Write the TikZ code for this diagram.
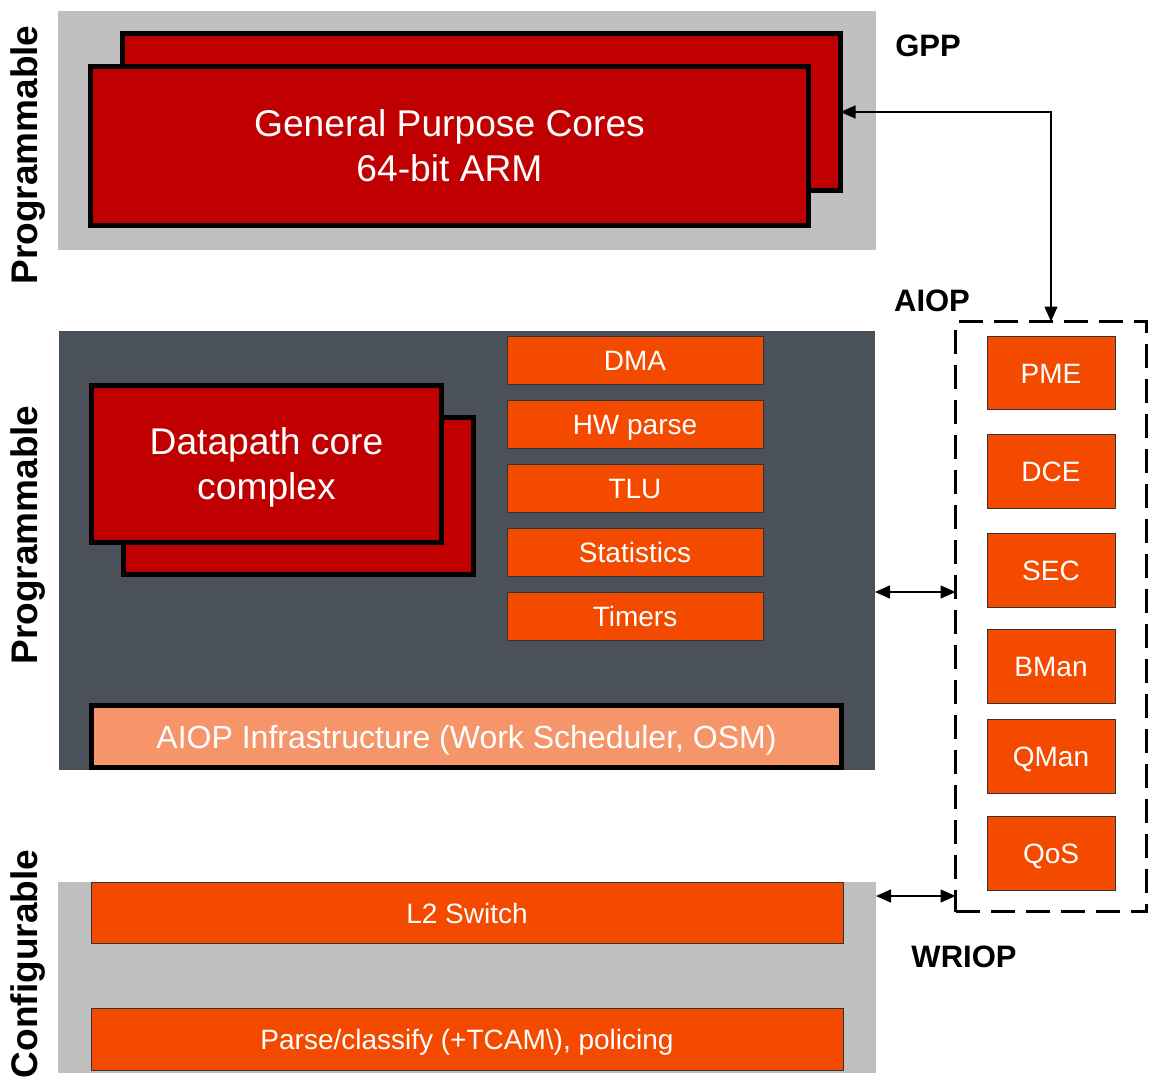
\documentclass[tikz,border=0pt]{standalone}
\usepackage{fontspec}
\setmainfont{Liberation Sans}
\usetikzlibrary{arrows.meta}
\definecolor{panelgray}{HTML}{BFBFBF}
\definecolor{paneldark}{HTML}{4B5159}
\definecolor{corered}{HTML}{C00000}
\definecolor{blockorange}{HTML}{F44A00}
\definecolor{infrasalmon}{HTML}{F7956A}
\newcommand{\fsz}[2]{\fontsize{#1}{#2}\selectfont}
\tikzset{
  panel/.style={inner sep=0pt, outer sep=0pt, anchor=north west},
  corebox/.style={fill=corered, draw=black, line width=5pt, inner sep=0pt,
    outer sep=0pt, text=white, align=center, font=\fsz{37.2}{45}},
  block/.style={fill=blockorange, draw=black!80, line width=1pt, inner sep=0pt,
    outer sep=0pt, text=white, font=\fsz{28}{32}, text height=20pt, text depth=0pt},
  sidelabel/.style={rotate=90, font=\bfseries\fsz{37}{40}},
  tag/.style={font=\bfseries\fsz{31}{34}, inner sep=0pt},
  dbl/.style={line width=1.4pt, {Triangle[length=15pt,width=13pt]}-{Triangle[length=15pt,width=13pt]}},
}
\begin{document}
\begin{tikzpicture}[x=1pt, y=-1pt]
\useasboundingbox (0,0) rectangle (1153,1086);

% background panels
\node[panel, fill=panelgray, minimum width=818pt, minimum height=239pt] (gpp) at (58,11) {};
\node[panel, fill=paneldark, minimum width=816pt, minimum height=439pt] (dark) at (59,331) {};
\node[panel, fill=panelgray, minimum width=818pt, minimum height=191pt] (cfg) at (58,882) {};

% side labels
\node[sidelabel] (lab1) at (28,155) {Programmable};
\node[sidelabel] (lab2) at (28,535) {Programmable};
\node[sidelabel] (lab3) at (28,964) {Configurable};

% general purpose cores (stacked)
\node[corebox, minimum width=718pt, minimum height=157pt] (gppback) at (481.5,112) {};
\node[corebox, minimum width=718pt, minimum height=159pt] (gppfront) at (449.5,146)
  {General Purpose Cores\\64-bit ARM};

% datapath core complex (stacked)
\node[corebox, minimum width=350pt, minimum height=157pt] (dpback) at (298.5,496) {};
\node[corebox, minimum width=350pt, minimum height=157pt] (dpfront) at (266.5,464)
  {\rule{0pt}{34pt}Datapath core\\complex};

% accelerator blocks inside the AIOP
\node[block, minimum width=256pt, minimum height=48pt] (dma)   at (635,360) {DMA};
\node[block, minimum width=256pt, minimum height=48pt] (hwp)   at (635,424) {HW parse};
\node[block, minimum width=256pt, minimum height=48pt] (tlu)   at (635,488) {TLU};
\node[block, minimum width=256pt, minimum height=48pt] (stats) at (635,552) {Statistics};
\node[block, minimum width=256pt, minimum height=48pt] (tim)   at (635,616) {Timers};

% AIOP infrastructure bar
\node[fill=infrasalmon, draw=black, line width=5pt, inner sep=0pt, outer sep=0pt,
  text=white, font=\fsz{32}{36}, text height=23pt, text depth=0pt,
  minimum width=750pt, minimum height=62pt] (infra) at (466.5,736.5)
  {AIOP Infrastructure (Work Scheduler, OSM)};

% WRIOP blocks
\node[block, minimum width=752pt, minimum height=61pt] (l2)  at (467,913) {L2 Switch};
\node[block, minimum width=752pt, minimum height=62pt] (pcl) at (467,1039) {Parse/classify (+TCAM\textbackslash), policing};

% peripheral engines
\node[draw=black, line width=3.5pt, dash pattern=on 24pt off 11pt, inner sep=0pt,
  outer sep=0pt, minimum width=191pt, minimum height=590pt] (aiopbox) at (1051,616.5) {};
\node[block, minimum width=128pt, minimum height=73pt] (pme)  at (1051,373) {PME};
\node[block, minimum width=128pt, minimum height=74pt] (dce)  at (1051,471) {DCE};
\node[block, minimum width=128pt, minimum height=74pt] (sec)  at (1051,570) {SEC};
\node[block, minimum width=128pt, minimum height=74pt] (bman) at (1051,666) {BMan};
\node[block, minimum width=128pt, minimum height=74pt] (qman) at (1051,756) {QMan};
\node[block, minimum width=128pt, minimum height=74pt] (qos)  at (1051,853) {QoS};

% region tags
\node[tag] (tgpp)   at (928,46)  {GPP};
\node[tag] (taiop)  at (932,301) {AIOP};
\node[tag] (twriop) at (964,957) {WRIOP};

% connections
\coordinate (ymid) at (0,592);
\coordinate (ylow) at (0,896);
\draw[dbl] (gppback.east) -| (aiopbox.north);
\draw[dbl] (dark.east |- ymid) -- (aiopbox.west |- ymid);
\draw[dbl] (cfg.east |- ylow) -- (aiopbox.west |- ylow);
\end{tikzpicture}
\end{document}
